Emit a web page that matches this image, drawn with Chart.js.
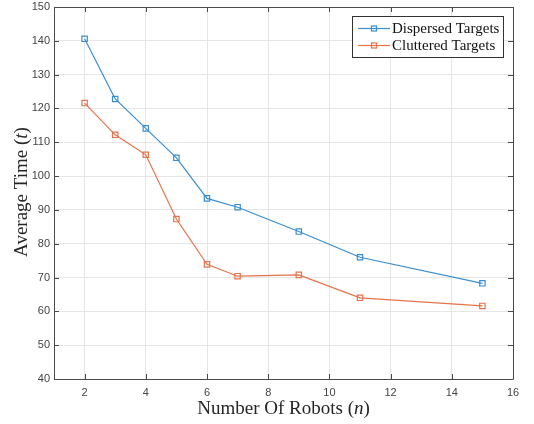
<!DOCTYPE html>
<html>
<head>
<meta charset="utf-8">
<script src="https://cdn.jsdelivr.net/npm/chart.js@4"></script>
<style>
  html, body { margin: 0; padding: 0; background: #fff; }
  #wrap { width: 534px; height: 424px; }
</style>
</head>
<body>
<div id="wrap"><canvas id="chart" width="534" height="424"></canvas></div>
<script>
// Robot counts and average completion time for each scenario
const robotCounts = [2, 3, 4, 5, 6, 7, 9, 11, 15];
const dispersedTimes = [140.6, 122.8, 114.1, 105.4, 93.4, 90.8, 83.6, 76.0, 68.3];
const clutteredTimes = [121.6, 112.2, 106.3, 87.3, 73.9, 70.4, 70.8, 64.0, 61.6];
const xTicks = [2, 4, 6, 8, 10, 12, 14, 16];
const yTicks = [40, 50, 60, 70, 80, 90, 100, 110, 120, 130, 140, 150];

const BLUE = '#3a8ed0';
const ORANGE = '#e4734a';
const AXIS = '#4a4a4a';
const SERIF = '"Liberation Serif", "Times New Roman", serif';

function toPoints(xs, ys) {
    return xs.map((x, i) => ({ x: x, y: ys[i] }));
}

// draws text made of [string, italic] runs, centred on (x, y)
function drawRuns(ctx, runs, x, y, size) {
    let total = 0;
    runs.forEach(r => {
        ctx.font = (r[1] ? 'italic ' : '') + size + 'px ' + SERIF;
        total += ctx.measureText(r[0]).width;
    });
    let cx = x - total / 2;
    runs.forEach(r => {
        ctx.font = (r[1] ? 'italic ' : '') + size + 'px ' + SERIF;
        ctx.fillText(r[0], cx, y);
        cx += ctx.measureText(r[0]).width;
    });
}

// box, inward ticks, axis titles and the legend
const framePlugin = {
    id: 'frame',
    afterDraw(chart) {
        const ctx = chart.ctx;
        const a = chart.chartArea;
        const xs = chart.scales.x, ys = chart.scales.y;
        ctx.save();
        ctx.strokeStyle = AXIS;
        ctx.lineWidth = 1;
        ctx.beginPath();
        ctx.rect(Math.round(a.left) + 0.5, Math.round(a.top) + 0.5,
                 Math.round(a.right - a.left), Math.round(a.bottom - a.top));
        ctx.stroke();

        ctx.beginPath();
        xTicks.forEach(v => {
            const px = Math.round(xs.getPixelForValue(v)) + 0.5;
            ctx.moveTo(px, a.bottom); ctx.lineTo(px, a.bottom - 5);
            ctx.moveTo(px, a.top); ctx.lineTo(px, a.top + 5);
        });
        yTicks.forEach(v => {
            const py = Math.round(ys.getPixelForValue(v)) + 0.5;
            ctx.moveTo(a.left, py); ctx.lineTo(a.left + 5, py);
            ctx.moveTo(a.right, py); ctx.lineTo(a.right - 5, py);
        });
        ctx.stroke();

        // axis titles
        ctx.fillStyle = '#262626';
        ctx.textBaseline = 'middle';
        ctx.textAlign = 'left';
        drawRuns(ctx, [['Number Of Robots (', false], ['n', true], [')', false]],
                 (a.left + a.right) / 2, 409, 19);
        ctx.save();
        ctx.translate(22, 192);
        ctx.rotate(-Math.PI / 2);
        drawRuns(ctx, [['Average Time (', false], ['t', true], [')', false]], 0, 0, 19);
        ctx.restore();

        // legend
        const lx = 352, ly = 16, lw = 151, lh = 41;
        ctx.fillStyle = '#fff';
        ctx.fillRect(lx, ly, lw, lh);
        ctx.strokeStyle = '#333';
        ctx.strokeRect(lx + 0.5, ly + 0.5, lw, lh);
        const items = [['Dispersed Targets', BLUE, 28.5], ['Cluttered Targets', ORANGE, 45.5]];
        items.forEach(it => {
            const y = it[2];
            ctx.strokeStyle = it[1];
            ctx.lineWidth = 1.2;
            ctx.beginPath();
            ctx.moveTo(358, y); ctx.lineTo(390, y);
            ctx.stroke();
            ctx.strokeRect(371.5, y - 2.5, 5, 5);
            ctx.fillStyle = '#111';
            ctx.font = '15px ' + SERIF;
            ctx.textAlign = 'left';
            ctx.fillText(it[0], 392, y + 1);
        });
        ctx.restore();
    }
};

new Chart(document.getElementById('chart'), {
    type: 'line',
    data: {
        datasets: [
            {
                label: 'Dispersed Targets',
                data: toPoints(robotCounts, dispersedTimes),
                borderColor: BLUE,
                borderWidth: 1.2,
                pointStyle: 'rect',
                pointRadius: 3.8,
                pointBorderWidth: 1.2,
                pointBorderColor: BLUE,
                pointBackgroundColor: 'rgba(0,0,0,0)',
                tension: 0
            },
            {
                label: 'Cluttered Targets',
                data: toPoints(robotCounts, clutteredTimes),
                borderColor: ORANGE,
                borderWidth: 1.2,
                pointStyle: 'rect',
                pointRadius: 3.8,
                pointBorderWidth: 1.2,
                pointBorderColor: ORANGE,
                pointBackgroundColor: 'rgba(0,0,0,0)',
                tension: 0
            }
        ]
    },
    options: {
        responsive: false,
        animation: false,
        layout: { padding: { left: 0, top: 7, right: 21, bottom: 0 } },
        plugins: {
            legend: { display: false },
            tooltip: { enabled: false }
        },
        scales: {
            x: {
                type: 'linear',
                min: 1,
                max: 16,
                afterBuildTicks: scale => { scale.ticks = xTicks.map(v => ({ value: v })); },
                afterFit: scale => { scale.height = 45; scale.paddingRight = 0; },
                grid: { color: '#e6e6e6', drawTicks: false },
                border: { display: false },
                ticks: {
                    padding: 7,
                    color: '#444',
                    font: { family: '"Liberation Sans", Arial, sans-serif', size: 11 }
                }
            },
            y: {
                min: 40,
                max: 150,
                afterBuildTicks: scale => { scale.ticks = yTicks.map(v => ({ value: v })); },
                afterFit: scale => { scale.width = 54; scale.paddingTop = 0; scale.paddingBottom = 0; },
                grid: { color: '#e6e6e6', drawTicks: false },
                border: { display: false },
                ticks: {
                    padding: 4,
                    color: '#444',
                    font: { family: '"Liberation Sans", Arial, sans-serif', size: 11 }
                }
            }
        }
    },
    plugins: [framePlugin]
});
</script>
</body>
</html>
